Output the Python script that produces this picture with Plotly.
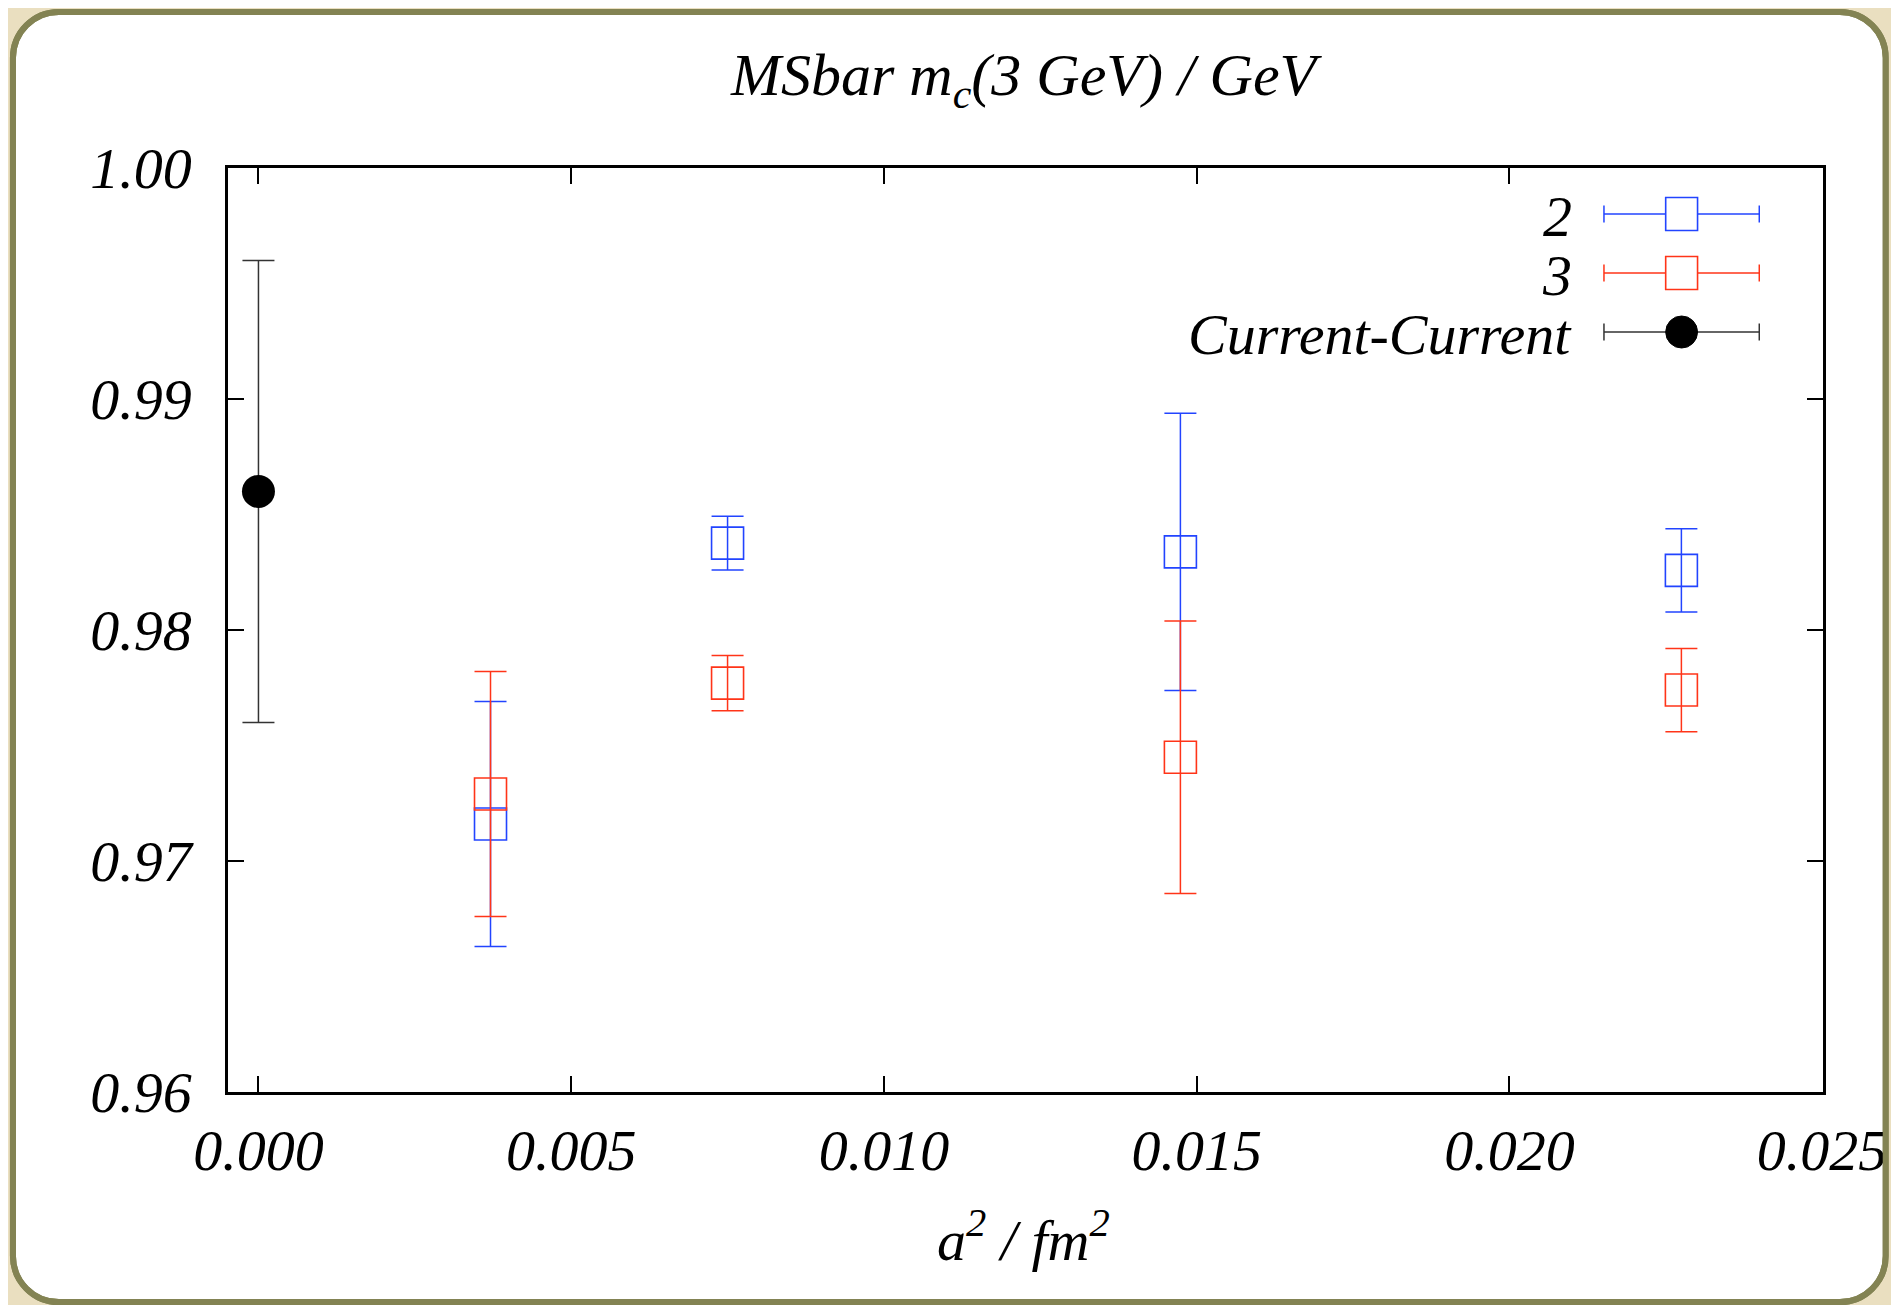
import plotly.graph_objects as go

# ---------------- data ----------------
x_pts = [0.00371, 0.00750, 0.01474, 0.02275]
y_2 = [0.9716, 0.98376, 0.98338, 0.98258]
e_2 = [0.0053, 0.00116, 0.0060, 0.0018]
y_3 = [0.9729, 0.9777, 0.97449, 0.9774]
e_3 = [0.0053, 0.0012, 0.0059, 0.0018]
x_cc = [0.0]
y_cc = [0.986]
e_cc = [0.010]

x_ticks = [0.000, 0.005, 0.010, 0.015, 0.020, 0.025]
y_ticks = [0.96, 0.97, 0.98, 0.99, 1.00]
legend_names = ["2", "3", "Current-Current"]

BLUE = "#2244ff"
RED = "#ff3418"
BLACK = "#000000"
BEIGE = "#eadfc0"
OLIVE = "#838353"

OFF = 8  # page body margin
W, H = 1899 - OFF, 1305 - OFF
# plot area in page pixels
L, R, T, B = 228, 1830, 168, 1092


def X(px):
    return (px - L) / (R - L)


def Y(py):
    return (B - py) / (B - T)


FONT = dict(family="Liberation Serif", size=58, color="black", style="italic")
TITLE_FONT = dict(family="Liberation Serif", size=60, color="black", style="italic")

fig = go.Figure()

fig.add_trace(go.Scatter(
    x=x_pts, y=y_2, mode="markers", name=legend_names[0],
    marker=dict(symbol="square-open", size=32, color=BLUE, line=dict(width=1.6, color=BLUE)),
    error_y=dict(type="data", array=e_2, color=BLUE, thickness=1.5, width=16),
    showlegend=False,
))
fig.add_trace(go.Scatter(
    x=x_pts, y=y_3, mode="markers", name=legend_names[1],
    marker=dict(symbol="square-open", size=32, color=RED, line=dict(width=1.6, color=RED)),
    error_y=dict(type="data", array=e_3, color=RED, thickness=1.5, width=16),
    showlegend=False,
))
fig.add_trace(go.Scatter(
    x=x_cc, y=y_cc, mode="markers", name=legend_names[2],
    marker=dict(symbol="circle", size=33, color=BLACK),
    error_y=dict(type="data", array=e_cc, color="#333333", thickness=1.5, width=16),
    showlegend=False,
))


def rounded_path(x0, y0, x1, y1, r):
    k = 0.5523 * r
    pts = []
    pts.append(f"M {X(x0 + r)},{Y(y0)}")
    pts.append(f"L {X(x1 - r)},{Y(y0)}")
    pts.append(f"C {X(x1 - r + k)},{Y(y0)} {X(x1)},{Y(y0 + r - k)} {X(x1)},{Y(y0 + r)}")
    pts.append(f"L {X(x1)},{Y(y1 - r)}")
    pts.append(f"C {X(x1)},{Y(y1 - r + k)} {X(x1 - r + k)},{Y(y1)} {X(x1 - r)},{Y(y1)}")
    pts.append(f"L {X(x0 + r)},{Y(y1)}")
    pts.append(f"C {X(x0 + r - k)},{Y(y1)} {X(x0)},{Y(y1 - r + k)} {X(x0)},{Y(y1 - r)}")
    pts.append(f"L {X(x0)},{Y(y0 + r)}")
    pts.append(f"C {X(x0)},{Y(y0 + r - k)} {X(x0 + r - k)},{Y(y0)} {X(x0 + r)},{Y(y0)}")
    pts.append("Z")
    return " ".join(pts)


panel = rounded_path(12, 12, 1893, 1302, 46)
shapes = [
    dict(type="path", path=panel, xref="paper", yref="paper", fillcolor="white",
         line=dict(color=OLIVE, width=6), layer="below"),
    dict(type="rect", xref="paper", yref="paper", x0=X(1896), x1=X(1960), y0=Y(-20), y1=Y(1330),
         fillcolor=BEIGE, line=dict(width=0), layer="above"),
    dict(type="path", path=panel, xref="paper", yref="paper", fillcolor="rgba(0,0,0,0)",
         line=dict(color=OLIVE, width=6), layer="above"),
]

# legend (drawn manually: text on left, error-bar sample with symbol on right)
leg_y = [214, 273, 332]
leg_col = [BLUE, RED, "#333333"]
lx0, lx1, lxc = 1610, 1766, 1688
annotations = []
for i, (name, py, col) in enumerate(zip(legend_names, leg_y, leg_col)):
    annotations.append(dict(text=name, x=X(1580), y=Y(py + 2), xref="paper", yref="paper",
                            xanchor="right", yanchor="middle", showarrow=False, font=FONT))
    shapes.append(dict(type="line", xref="paper", yref="paper", x0=X(lx0), x1=X(lx1), y0=Y(py), y1=Y(py),
                       line=dict(color=col, width=1.5)))
    for cx in (lx0, lx1):
        shapes.append(dict(type="line", xref="paper", yref="paper", x0=X(cx), x1=X(cx),
                           y0=Y(py - 8.5), y1=Y(py + 8.5), line=dict(color=col, width=1.5)))
    if i < 2:
        shapes.append(dict(type="rect", xref="paper", yref="paper", x0=X(lxc - 16), x1=X(lxc + 16),
                           y0=Y(py - 16.5), y1=Y(py + 16.5), fillcolor="white", line=dict(color=col, width=1.6)))
    else:
        shapes.append(dict(type="circle", xref="paper", yref="paper", x0=X(lxc - 16), x1=X(lxc + 16),
                           y0=Y(py - 16), y1=Y(py + 16), fillcolor="black", line=dict(color="black", width=1)))

annotations.append(dict(text="MSbar m<sub>c</sub>(3 GeV) / GeV", x=X(1030), y=Y(80), xref="paper", yref="paper",
                        xanchor="center", yanchor="middle", showarrow=False, font=TITLE_FONT))
annotations.append(dict(text="a<sup>2</sup> / fm<sup>2</sup>", x=X(1027), y=Y(1236), xref="paper", yref="paper",
                        xanchor="center", yanchor="middle", showarrow=False, font=FONT))

axis_common = dict(showline=True, linecolor="black", linewidth=2.5, mirror="ticks",
                   ticks="inside", ticklen=16, tickwidth=2, tickcolor="black",
                   showgrid=False, zeroline=False, tickfont=FONT)

fig.update_layout(
    width=W, height=H, autosize=False,
    margin=dict(l=L - OFF, r=W - (R - OFF), t=T - OFF, b=H - (B - OFF), pad=0),
    paper_bgcolor=BEIGE, plot_bgcolor="rgba(0,0,0,0)",
    xaxis=dict(range=[-0.000487, 0.025014], tickvals=x_ticks, ticktext=[f"{v:.3f}" for v in x_ticks],
               ticklabelstandoff=6, **axis_common),
    yaxis=dict(range=[0.96, 1.00], tickvals=y_ticks, ticktext=[f"{v:.2f}" for v in y_ticks],
               ticklabelstandoff=22, **axis_common),
    shapes=shapes, annotations=annotations, showlegend=False,
)

fig.write_html("out.html")
